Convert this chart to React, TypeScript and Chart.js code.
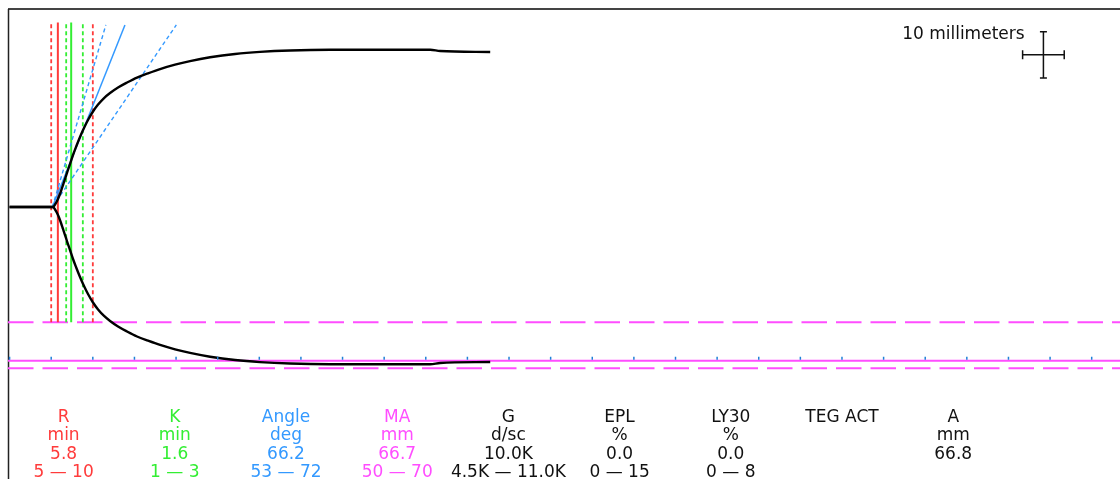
import React, { useEffect, useRef } from "react";
import { Chart, registerables } from "chart.js";

Chart.register(...registerables);

// ---- Trace data (time in minutes, full amplitude in mm) ----
const timeMin = [0, 5.22, 5.46, 5.7, 5.94, 6.18, 6.42, 6.66, 6.89, 7.26, 7.62, 7.98, 8.46, 8.94, 9.42, 10.02, 10.63, 11.35, 12.07, 13.03, 14.11, 15.31, 16.63, 18.08, 19.88, 21.68, 24.09, 27.09, 30.09, 33.7, 38.51, 50.53, 51.73, 57.74];
const amplitudeMm = [0, 0, 1.08, 2.6, 4.56, 6.94, 9.54, 12.15, 14.75, 18.65, 22.56, 26.03, 30.37, 34.27, 37.74, 41.43, 44.46, 47.28, 49.45, 51.84, 54.01, 56.17, 58.0, 59.85, 61.75, 63.3, 64.95, 66.4, 67.3, 67.9, 68.19, 68.19, 67.67, 67.24];

// ---- Results ----
const rValue = 5.8;
const kValue = 1.6;
const angleValue = 66.2;
const maValue = 66.7;
const traceStart = 5.15;
const rRange = [5, 10];
const kRange = [1, 3];
const angleRange = [53, 72];
const maRange = [50, 70];

// ---- Table ----
const colNames = ["R", "K", "Angle", "MA", "G", "EPL", "LY30", "TEG ACT", "A"];
const colUnits = ["min", "min", "deg", "mm", "d/sc", "%", "%", "", "mm"];
const colValues = ["5.8", "1.6", "66.2", "66.7", "10.0K", "0.0", "0.0", "", "66.8"];
const colRanges = ["5 \u2014 10", "1 \u2014 3", "53 \u2014 72", "50 \u2014 70", "4.5K \u2014 11.0K", "0 \u2014 15", "0 \u2014 8", "", ""];

// ---- Axis ----
const xMin = -0.19;
const xMax = 133.4;
const yMin = -59.0;
const yMax = 42.95;
const tickStep = 5;
const chartSpeed = 2; // mm per minute
const scaleBarMm = 10;
const scaleBarCenter = { t: 124.2, mm: 33 };
const markerTop = 40;
const markerBottom = -25;
const angleTop = 39.5;

const RED = "#ff3b3b";
const GREEN = "#33ee33";
const BLUE = "#3399ff";
const MAGENTA = "#ff4dff";
const colColors = [RED, GREEN, BLUE, MAGENTA, "#111", "#111", "#111", "#111", "#111"];

function vline(v: number, color: string, dashed: boolean) {
  return {
    data: [
      { x: v, y: markerBottom },
      { x: v, y: markerTop },
    ],
    borderColor: color,
    borderWidth: dashed ? 1.8 : 2,
    borderDash: dashed ? [4, 3] : [],
    pointRadius: 0,
    order: 5,
  };
}

function angleLine(a: number, dashed: boolean) {
  const slope = chartSpeed * Math.tan((a * Math.PI) / 180);
  return {
    data: [
      { x: traceStart, y: 0 },
      { x: traceStart + angleTop / slope, y: angleTop },
    ],
    borderColor: BLUE,
    borderWidth: dashed ? 1.4 : 1.5,
    borderDash: dashed ? [4, 3] : [],
    pointRadius: 0,
    order: 4,
  };
}

function hline(v: number, dashed: boolean) {
  return {
    data: [
      { x: xMin, y: v },
      { x: xMax, y: v },
    ],
    borderColor: MAGENTA,
    borderWidth: 2,
    borderDash: dashed ? [25.5, 9] : [],
    pointRadius: 0,
    order: 6,
  };
}

const overlayPlugin = {
  id: "tegOverlay",
  beforeDatasetsDraw(chart: any) {
    const { ctx, chartArea } = chart;
    ctx.save();
    ctx.strokeStyle = "#444";
    ctx.lineWidth = 2;
    ctx.beginPath();
    ctx.moveTo(chartArea.left, chartArea.top);
    ctx.lineTo(chartArea.right, chartArea.top);
    ctx.stroke();
    ctx.strokeStyle = "#222";
    ctx.lineWidth = 1.5;
    ctx.beginPath();
    ctx.moveTo(chartArea.left + 0.5, chartArea.top);
    ctx.lineTo(chartArea.left + 0.5, chartArea.bottom);
    ctx.stroke();
    ctx.restore();
  },
  afterDatasetsDraw(chart: any) {
    const { ctx, chartArea } = chart;
    const xs = chart.scales.x;
    const ys = chart.scales.y;
    ctx.save();
    // ticks on MA line
    const yLine = ys.getPixelForValue(-maValue / 2);
    ctx.strokeStyle = "#1f80d8";
    ctx.lineWidth = 1.5;
    for (let t = 0; t <= xMax; t += tickStep) {
      const px = xs.getPixelForValue(t);
      ctx.beginPath();
      ctx.moveTo(px, yLine - 4);
      ctx.lineTo(px, yLine - 1);
      ctx.stroke();
    }
    // scale bar
    const halfMin = scaleBarMm / chartSpeed / 2;
    const cx = xs.getPixelForValue(scaleBarCenter.t);
    const cy = ys.getPixelForValue(scaleBarCenter.mm);
    const top = ys.getPixelForValue(scaleBarCenter.mm + scaleBarMm / 2);
    const bot = ys.getPixelForValue(scaleBarCenter.mm - scaleBarMm / 2);
    const left = xs.getPixelForValue(scaleBarCenter.t - halfMin);
    const right = xs.getPixelForValue(scaleBarCenter.t + halfMin);
    ctx.strokeStyle = "#111";
    ctx.lineWidth = 1.5;
    ctx.beginPath();
    ctx.moveTo(cx, top);
    ctx.lineTo(cx, bot);
    ctx.moveTo(left, cy);
    ctx.lineTo(right, cy);
    ctx.moveTo(cx - 3.5, top);
    ctx.lineTo(cx + 3.5, top);
    ctx.moveTo(cx - 3.5, bot);
    ctx.lineTo(cx + 3.5, bot);
    ctx.moveTo(left, cy - 4.5);
    ctx.lineTo(left, cy + 4.5);
    ctx.moveTo(right, cy - 4.5);
    ctx.lineTo(right, cy + 4.5);
    ctx.stroke();
    ctx.font = '17px "DejaVu Sans"';
    ctx.fillStyle = "#111";
    ctx.textAlign = "right";
    ctx.textBaseline = "alphabetic";
    ctx.fillText(scaleBarMm + " millimeters", left + 2, top + 7.5);

    // table
    const colW = (chartArea.right - chartArea.left) / 10;
    const rows = [colNames, colUnits, colValues, colRanges];
    const base0 = 422;
    const rowH = 18.4;
    ctx.textAlign = "center";
    for (let c = 0; c < colNames.length; c++) {
      const x = chartArea.left + colW * (c + 0.5);
      ctx.fillStyle = colColors[c];
      for (let r = 0; r < rows.length; r++) {
        const s = rows[r][c];
        if (s) ctx.fillText(s, x, base0 + r * rowH);
      }
    }
    ctx.restore();
  },
};

export default function App() {
  const ref = useRef<HTMLCanvasElement>(null);
  useEffect(() => {
    const upper = timeMin.map((t, i) => ({ x: t, y: amplitudeMm[i] / 2 }));
    const lower = timeMin.map((t, i) => ({ x: t, y: -amplitudeMm[i] / 2 }));
    const trace = (data: any[]) => ({
      data,
      borderColor: "#000",
      borderWidth: 2.4,
      pointRadius: 0,
      cubicInterpolationMode: "monotone",
      order: 1,
    });
    const datasets: any[] = [
      trace(upper),
      trace(lower),
      angleLine(angleValue, false),
      angleLine(angleRange[0], true),
      angleLine(angleRange[1], true),
      vline(rRange[0], RED, true),
      vline(rRange[1], RED, true),
      vline(rValue, RED, false),
      vline(rValue + kRange[0], GREEN, true),
      vline(rValue + kRange[1], GREEN, true),
      vline(rValue + kValue, GREEN, false),
      hline(-maValue / 2, false),
      hline(-maRange[0] / 2, true),
      hline(-maRange[1] / 2, true),
    ];
    const chart = new Chart(ref.current as HTMLCanvasElement, {
      type: "line",
      data: { datasets },
      options: {
        animation: false,
        responsive: false,
        devicePixelRatio: 1,
        layout: { padding: { left: 8, top: 9, right: 0, bottom: 0 } },
        plugins: { legend: { display: false }, tooltip: { enabled: false } },
        elements: { line: { fill: false } },
        scales: {
          x: { type: "linear", min: xMin, max: xMax, display: false },
          y: { type: "linear", min: yMin, max: yMax, display: false },
        },
      } as any,
      plugins: [overlayPlugin],
    });
    return () => chart.destroy();
  }, []);
  return (
    <div style={{ position: "absolute", left: 0, top: 0, width: 1120, height: 479, background: "#fff" }}>
      <canvas ref={ref} width={1120} height={479} style={{ display: "block", width: 1120, height: 479 }} />
    </div>
  );
}
